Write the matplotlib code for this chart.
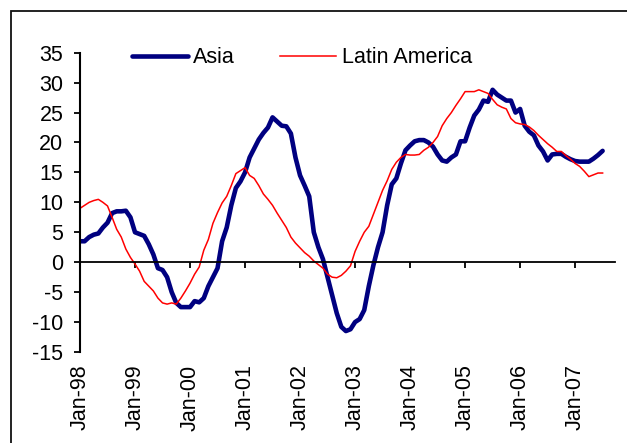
import matplotlib
matplotlib.use("Agg")
import matplotlib.pyplot as plt
import numpy as np
from matplotlib.patches import Rectangle

plt.rcParams['font.family'] = ['Liberation Sans', 'DejaVu Sans']

# Monthly values, Jan-98 .. Jul-07
asia = [
    3.5, 3.5, 4.2, 4.6, 4.8, 5.8, 6.6, 8.2, 8.5, 8.5,
    8.6, 7.5, 5.0, 4.7, 4.4, 3.0, 1.3, -1.0, -1.3, -2.5,
    -5.0, -6.8, -7.5, -7.5, -7.5, -6.5, -6.7, -6.0, -4.0, -2.5,
    -1.0, 3.5, 5.8, 9.5, 12.4, 13.5, 15.0, 17.5, 19.0, 20.5,
    21.6, 22.5, 24.2, 23.5, 22.8, 22.7, 21.5, 17.5, 14.5, 12.8,
    11.0, 5.0, 2.5, 0.5, -2.5, -5.5, -8.5, -10.8, -11.5, -11.2,
    -10.0, -9.5, -8.0, -4.0, -0.5, 2.5, 5.0, 9.5, 13.0, 14.0,
    16.5, 18.7, 19.5, 20.2, 20.4, 20.4, 20.0, 19.3, 18.0, 17.0,
    16.8, 17.5, 18.0, 20.2, 20.2, 22.5, 24.5, 25.5, 27.0, 26.8,
    28.8, 28.0, 27.5, 27.0, 27.0, 25.0, 25.6, 22.8, 21.8, 21.2,
    19.5, 18.5, 17.0, 18.0, 18.1, 18.1, 17.6, 17.2, 16.9, 16.8,
    16.8, 16.8, 17.3, 17.9, 18.6,
]
latam = [
    9.0, 9.5, 10.0, 10.3, 10.5, 10.0, 9.4, 7.5, 5.5, 4.2,
    2.2, 0.8, -0.3, -1.5, -3.2, -4.0, -4.8, -6.0, -6.8, -7.0,
    -6.8, -7.0, -6.0, -4.8, -3.5, -2.0, -0.8, 2.0, 3.8, 6.5,
    8.3, 9.9, 11.0, 12.8, 14.8, 15.3, 15.8, 14.5, 14.0, 12.8,
    11.4, 10.5, 9.5, 8.2, 7.0, 5.8, 4.2, 3.2, 2.4, 1.6,
    1.0, 0.2, -0.4, -1.0, -2.0, -2.5, -2.6, -2.2, -1.5, -0.6,
    1.8, 3.5, 5.0, 6.0, 8.0, 10.0, 12.0, 13.6, 15.5, 16.7,
    17.5, 18.0, 17.9, 17.9, 18.0, 18.7, 19.2, 20.0, 21.0, 22.8,
    24.0, 25.0, 26.2, 27.3, 28.5, 28.5, 28.5, 28.8, 28.5, 28.2,
    27.2, 26.3, 25.9, 25.6, 24.0, 23.3, 23.1, 23.0, 22.6, 22.0,
    21.2, 20.5, 19.8, 19.2, 18.5, 18.5, 17.8, 17.2, 16.5, 16.0,
    15.2, 14.3, 14.6, 14.9, 14.9,
]
year_labels = ['Jan-98', 'Jan-99', 'Jan-00', 'Jan-01', 'Jan-02',
               'Jan-03', 'Jan-04', 'Jan-05', 'Jan-06', 'Jan-07']
y_ticks = [-15, -10, -5, 0, 5, 10, 15, 20, 25, 30, 35]

W, H = 627, 443
fig = plt.figure(figsize=(W / 100, H / 100), dpi=100)
fig.patch.set_facecolor('white')

# outer chart border (only left and top edges show in the crop)
fig.patches.append(Rectangle((11 / W, -0.1), 1.2, 1.1 - 11 / H,
                             transform=fig.transFigure, fill=False,
                             edgecolor='#111111', linewidth=1.3))

ax = fig.add_axes([80 / W, 1 - 352 / H, (615 - 80) / W, (352 - 52.7) / H])
months = np.arange(len(asia))
ax.plot(months, asia, color='#000080', linewidth=3.3, label='Asia',
        solid_joinstyle='round', solid_capstyle='round')
ax.plot(months, latam, color='#ff0000', linewidth=1.1, label='Latin America')

ax.set_xlim(0, 116.7)
ax.set_ylim(-15, 35)
ax.set_yticks(y_ticks)
ax.set_yticklabels([str(v) for v in y_ticks])

for side in ['top', 'right']:
    ax.spines[side].set_visible(False)
ax.spines['left'].set_linewidth(1.5)
ax.spines['bottom'].set_position(('data', 0))
ax.spines['bottom'].set_linewidth(1.3)

ax.tick_params(axis='y', direction='out', length=4, width=1.3,
               pad=8, labelsize=15.5)
tick_pos = np.arange(0, 12 * len(year_labels), 12)
ax.set_xticks(tick_pos)
ax.tick_params(axis='x', direction='out', length=4.5, width=1.3,
               labelbottom=False)

# labels for the category axis sit under the plot area
sec = ax.secondary_xaxis(0)
sec.set_xticks(tick_pos)
sec.set_xticklabels(year_labels, rotation=90, va='top', ha='center')
sec.tick_params(length=0, pad=9, labelsize=15.5)
sec.spines['bottom'].set_visible(False)

leg = ax.legend(loc='center left', bbox_to_anchor=(132 / W, 1 - 57.7 / H),
                bbox_transform=fig.transFigure, ncol=2, frameon=False,
                fontsize=15.5, handlelength=2.6, handletextpad=0.25,
                columnspacing=2.1, borderpad=0, borderaxespad=0)

fig.savefig('out.png', dpi=100)
